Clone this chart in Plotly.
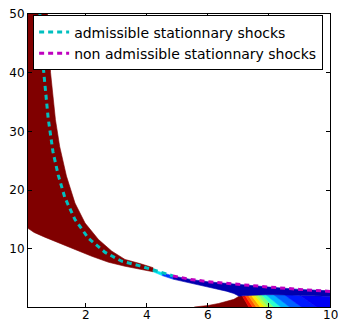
import plotly.graph_objects as go

# ---------------- data ----------------
# stationary shock curve (dotted)
adm_x = [0.49, 0.6, 0.76, 0.92, 1.09, 1.31, 1.64, 2.08, 2.63, 3.17, 3.77, 4.2, 4.5, 4.85]
adm_y = [50, 41, 32.3, 26.5, 22.6, 18.7, 15.0, 11.8, 9.4, 7.9, 7.1, 6.45, 5.95, 5.4]
nonadm_x = [4.85, 5.43, 6.0, 6.6, 7.3, 8.0, 9.0, 10.0]
nonadm_y = [5.4, 4.8, 4.4, 4.1, 3.8, 3.5, 3.1, 2.75]

# saturated (maroon) zone boundaries
zone_right_x = [0.74, 0.84, 1.0, 1.14, 1.36, 1.64, 1.97, 2.41, 2.85, 3.28, 3.77, 4.2]
zone_right_y = [50, 40, 32, 27.4, 22.4, 17.8, 14.4, 11.6, 9.6, 8.2, 7.5, 6.8]
zone_low_x = [0.1, 0.3, 0.65, 1.09, 1.64, 2.19, 2.74, 3.28, 3.77, 4.2]
zone_low_y = [13.5, 12.8, 12.0, 11.0, 9.9, 8.74, 7.72, 7.04, 6.5, 6.1]

# thin band below the shock curve (lower edge)
band_low_x = [4.2, 4.5, 4.85, 5.43, 6.0, 6.6, 6.85, 7.02]
band_low_y = [6.1, 5.45, 4.85, 4.15, 3.5, 2.8, 2.4, 1.95]
band_start_level = [0.35, 0.18]   # colour of the band pieces 4.2-4.5 and 4.5-4.85
band_level = 0.04                  # colour of the band beyond 4.85

# lower-right tongue (upper edge)
tongue_x = [5.55, 6.0, 6.35, 6.6, 6.85, 7.02]
tongue_y = [0.1, 0.35, 0.7, 1.0, 1.4, 1.95]

# colour levels in the lower-right fan (boundaries between levels)
ray_top_x = [7.12, 7.22, 7.32, 7.42, 7.52, 7.62, 7.75, 7.9, 8.15, 8.5, 9.0]
ray_top_y = [2.0, 2.04, 2.08, 2.11, 2.15, 2.17, 2.18, 2.19, 2.2, 2.2, 2.1]
ray_bot_x = [7.42, 7.55, 7.68, 7.82, 7.98, 8.12, 8.3, 8.55, 8.85, 9.25, 9.75]
fan_level = [0.9, 0.82, 0.74, 0.66, 0.58, 0.5, 0.4, 0.3, 0.22, 0.15, 0.1]
inner_tail_x = [9.5, 10.0]
inner_tail_y = [2.0, 1.9]

x_ticks = [2, 4, 6, 8, 10]
y_ticks = [10, 20, 30, 40, 50]

# ---------------- helpers ----------------
def jet(v):
    def seg(pts):
        for (x0, y0), (x1, y1) in zip(pts, pts[1:]):
            if x0 <= v <= x1:
                return y0 + (y1 - y0) * (v - x0) / (x1 - x0)
        return pts[-1][1]
    r = seg([(0, 0), (0.35, 0), (0.66, 1), (0.89, 1), (1, 0.5)])
    g = seg([(0, 0), (0.125, 0), (0.375, 1), (0.64, 1), (0.91, 0), (1, 0)])
    b = seg([(0, 0.5), (0.11, 1), (0.34, 1), (0.65, 0), (1, 0)])
    return "rgb(%d,%d,%d)" % (round(r * 255), round(g * 255), round(b * 255))

XL, XR, YB, YT = -0.2, 10.4, -0.6, 53

fig = go.Figure()

def poly(xs, ys, v):
    c = jet(v)
    fig.add_trace(go.Scatter(x=xs, y=ys, mode="lines", fill="toself", fillcolor=c,
                             line=dict(color=c, width=0.6), hoverinfo="skip",
                             showlegend=False))

# maroon tongue + first fan piece
poly(tongue_x + [ray_top_x[0], ray_bot_x[0], tongue_x[0], tongue_x[0]],
     tongue_y + [ray_top_y[0], YB, YB, tongue_y[0]], 1.0)

# fan pieces
n = len(ray_top_x)
for i in range(n):
    if i < n - 1:
        xs = [ray_top_x[i], ray_bot_x[i], ray_bot_x[i + 1], ray_top_x[i + 1]]
        ys = [ray_top_y[i], YB, YB, ray_top_y[i + 1]]
    else:
        xs = [ray_top_x[i], ray_bot_x[i], XR, XR] + inner_tail_x[::-1]
        ys = [ray_top_y[i], YB, YB, inner_tail_y[-1]] + inner_tail_y[::-1]
    poly(xs, ys, fan_level[i])

# dark band below the non admissible curve
bx = nonadm_x + [XR, XR] + inner_tail_x[::-1] + ray_top_x[::-1] \
    + [x for x in band_low_x[::-1] if x >= nonadm_x[0]]
by = nonadm_y + [nonadm_y[-1], inner_tail_y[-1]] + inner_tail_y[::-1] + ray_top_y[::-1] \
    + [y for x, y in zip(band_low_x[::-1], band_low_y[::-1]) if x >= nonadm_x[0]]
poly(bx, by, band_level)

# short band pieces 4.2 - 4.85
for k in range(2):
    i0 = adm_x.index(band_low_x[k])
    i1 = adm_x.index(band_low_x[k + 1])
    poly([adm_x[i0], adm_x[i1], band_low_x[k + 1], band_low_x[k]],
         [adm_y[i0], adm_y[i1], band_low_y[k + 1], band_low_y[k]], band_start_level[k])

# main maroon zone
mx = [XL, zone_right_x[0]] + zone_right_x + zone_low_x[::-1] + [XL]
my = [YT, YT] + zone_right_y + zone_low_y[::-1] + [zone_low_y[0]]
poly(mx, my, 1.0)

# shock curves
dash = "5px,4px"
fig.add_trace(go.Scatter(x=adm_x, y=adm_y, mode="lines",
                         line=dict(color="#00BFBF", width=3, dash=dash),
                         name="admissible stationnary shocks"))
fig.add_trace(go.Scatter(x=nonadm_x, y=nonadm_y, mode="lines",
                         line=dict(color="#BF00BF", width=3, dash=dash),
                         name="non admissible stationnary shocks"))

font = dict(family="DejaVu Sans", size=12, color="black")
axis_common = dict(ticks="inside", ticklen=4, tickwidth=1, tickcolor="black",
                   showline=True, linecolor="black", linewidth=1, mirror="ticks",
                   showgrid=False, zeroline=False, tickfont=font, automargin=False)

# x tick labels as text placed just under the axis (keeps them inside the canvas)
for t in x_ticks:
    fig.add_annotation(x=t, xref="x", y=0, yref="paper", yanchor="top", yshift=0,
                       text=str(t), showarrow=False, font=font, borderpad=0)

fig.update_layout(
    width=338, height=321,
    margin=dict(l=28, r=8, t=14, b=14, pad=0, autoexpand=False),
    paper_bgcolor="white", plot_bgcolor="white",
    xaxis=dict(range=[0.1, 10], tickvals=x_ticks, showticklabels=False, **axis_common),
    yaxis=dict(range=[0.1, 50], tickvals=y_ticks, ticktext=[str(t) for t in y_ticks], **axis_common),
    legend=dict(x=0.017, y=0.995, xanchor="left", yanchor="top",
                bgcolor="white", bordercolor="black", borderwidth=1,
                font=dict(family="DejaVu Sans", size=14, color="black"),
                tracegroupgap=0),
    showlegend=True,
)

fig.write_html("out.html")
